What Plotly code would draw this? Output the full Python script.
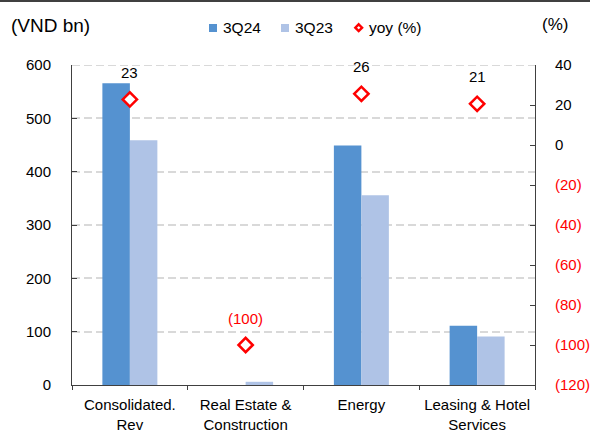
import plotly.graph_objects as go

categories = ["Consolidated.<br>Rev", "Real Estate &<br>Construction", "Energy", "Leasing & Hotel<br>Services"]
rev_3q24 = [566, 0, 449, 111]
rev_3q23 = [459, 6, 356, 91]
yoy = [22.8, -100, 25.6, 20.6]

left_ticks = [0, 100, 200, 300, 400, 500, 600]
right_ticks = [-120, -100, -80, -60, -40, -20, 0, 20, 40]

FONT = "Liberation Sans, Arial, sans-serif"
RED = "#FF0000"
C24 = "#5592D0"
C23 = "#AFC3E6"
GRID = "#D9D9D9"
W, H = 590, 433
ML, MR, MT, MB = 72, 55, 65, 48
PW, PH = W - ML - MR, H - MT - MB


def fmt(v):
    r = round(v)
    return f"({abs(r)})" if r < 0 else f"{r}"


def px_x(p):
    return (p - ML) / PW


def px_y(p):
    return (H - MB - p) / PH


fig = go.Figure()
fig.add_trace(go.Bar(x=categories, y=rev_3q24, name="3Q24", marker_color=C24,
                     marker_line_width=0, showlegend=False))
fig.add_trace(go.Bar(x=categories, y=rev_3q23, name="3Q23", marker_color=C23,
                     marker_line_width=0, showlegend=False))
fig.add_trace(go.Scatter(x=categories, y=yoy, name="yoy (%)", yaxis="y2", mode="markers",
                         showlegend=False,
                         marker=dict(symbol="diamond", size=11, color="white",
                                     line=dict(color=RED, width=2.5))))

annotations = []
for c, v in zip(categories, yoy):
    annotations.append(dict(x=c, y=v, xref="x", yref="y2", text=fmt(v), showarrow=False,
                            yshift=27, font=dict(size=15, color=RED if v < 0 else "black", family=FONT)))
annotations.append(dict(x=px_x(9), y=px_y(25.5), xref="paper", yref="paper", text="(VND bn)",
                        showarrow=False, xanchor="left", yanchor="middle",
                        font=dict(size=19, color="black", family=FONT)))
annotations.append(dict(x=px_x(555), y=px_y(24.5), xref="paper", yref="paper", text="(%)",
                        showarrow=False, xanchor="center", yanchor="middle",
                        font=dict(size=17, color="black", family=FONT)))

# manual legend
LEG_Y = 27.7
legend_items = [("3Q24", 221), ("3Q23", 293), ("yoy (%)", 367)]
for label, tx in legend_items:
    annotations.append(dict(x=px_x(tx), y=px_y(LEG_Y), xref="paper", yref="paper", text=label,
                            showarrow=False, xanchor="left", yanchor="middle",
                            font=dict(size=15.5, color="black", family=FONT)))

shapes = [
    dict(type="line", xref="paper", yref="paper", x0=px_x(0), x1=px_x(W),
         y0=px_y(1.0), y1=px_y(1.0), line=dict(color="black", width=1.6)),
    dict(type="line", xref="paper", yref="y", x0=0, x1=1, y0=600, y1=600, layer="below",
         line=dict(color=GRID, width=2, dash="8px,4px")),
    dict(type="rect", xref="paper", yref="paper", x0=px_x(209), x1=px_x(217),
         y0=px_y(24), y1=px_y(32), fillcolor=C24, line=dict(width=0)),
    dict(type="rect", xref="paper", yref="paper", x0=px_x(281), x1=px_x(289),
         y0=px_y(24), y1=px_y(32), fillcolor=C23, line=dict(width=0)),
]
cx, cy, r = 358.7, LEG_Y, 3.4
pts = [(cx, cy - r), (cx + r, cy), (cx, cy + r), (cx - r, cy)]
path = "M " + " L ".join(f"{px_x(a):.5f},{px_y(b):.5f}" for a, b in pts) + " Z"
shapes.append(dict(type="path", xref="paper", yref="paper", path=path, fillcolor="white",
                   line=dict(color=RED, width=2.4)))

right_text = [f'<span style="color:{RED}">({abs(t)})</span>' if t < 0 else str(t) for t in right_ticks]

fig.update_layout(
    width=W, height=H,
    margin=dict(l=ML, r=MR, t=MT, b=MB, pad=0, autoexpand=False),
    paper_bgcolor="white", plot_bgcolor="white",
    font=dict(family=FONT, size=15, color="black"),
    barmode="group", bargap=0.525, bargroupgap=0,
    showlegend=False,
    xaxis=dict(tickson="boundaries", ticks="outside", ticklen=4, tickcolor="#404040",
               showline=True, linecolor="#404040", linewidth=1, showgrid=False,
               tickangle=0, automargin=False,
               tickfont=dict(size=15, family=FONT), ticklabelstandoff=6),
    yaxis=dict(range=[0, 600], tickvals=left_ticks, ticks="inside", ticklen=5,
               tickcolor="#404040", showline=True, linecolor="#404040", linewidth=1,
               showgrid=True, gridcolor=GRID, gridwidth=2, griddash="8px,4px",
               zeroline=False, automargin=False,
               tickfont=dict(size=15, family=FONT), ticklabelstandoff=17),
    yaxis2=dict(range=[-120, 40], tickvals=right_ticks, ticktext=right_text, overlaying="y",
                side="right", ticks="inside", ticklen=5, tickcolor="#404040", showline=True,
                linecolor="#404040", linewidth=1, showgrid=False, zeroline=False,
                automargin=False,
                tickfont=dict(size=15, family=FONT), ticklabelstandoff=16),
    annotations=annotations,
    shapes=shapes,
)

fig.write_html("out.html")
